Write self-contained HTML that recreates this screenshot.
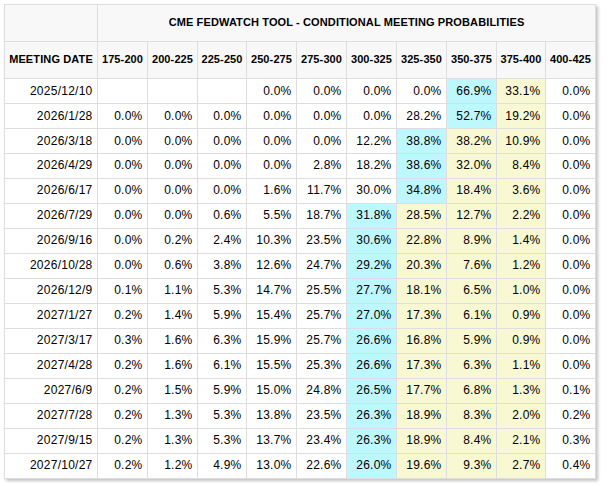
<!DOCTYPE html>
<html><head><meta charset="utf-8"><style>
html,body{margin:0;padding:0;background:#fff;}
body{width:608px;height:486px;overflow:hidden;position:relative;}
table{position:absolute;left:4px;top:4px;border-collapse:separate;border-spacing:0;table-layout:fixed;
 border-left:1px solid #dedee0;border-top:1px solid #dedee0;box-shadow:2px 2px 3px rgba(0,0,0,.24);
 font-family:"Liberation Sans",Arial,sans-serif;color:#000;width:592px;}
td,th{box-sizing:border-box;border-right:1px solid #dedee0;border-bottom:1px solid #dedee0;padding:0 5px 0 0;
 white-space:nowrap;overflow:hidden;}
th{background:#f8f8f8;font-size:11px;font-weight:bold;text-align:center;padding:0 0 2px 0;height:37px;letter-spacing:0.12px;}
td{font-size:12px;text-align:right;height:25px;background:#fff;letter-spacing:0.25px;padding-right:4.5px;}
tr.u td{padding-bottom:2px;}
td.b{background:#bdf7ff;}
td.y{background:#f8f8d2;}
</style></head><body>
<table>
<colgroup>
<col style="width:93px">
<col style="width:50px">
<col style="width:50px">
<col style="width:49px">
<col style="width:50px">
<col style="width:50px">
<col style="width:50px">
<col style="width:50px">
<col style="width:50px">
<col style="width:49px">
<col style="width:50px">
</colgroup>
<tr><th></th><th colspan="10">CME FEDWATCH TOOL - CONDITIONAL MEETING PROBABILITIES</th></tr>
<tr><th>MEETING DATE</th><th>175-200</th><th>200-225</th><th>225-250</th><th>250-275</th><th>275-300</th><th>300-325</th><th>325-350</th><th>350-375</th><th>375-400</th><th>400-425</th></tr>
<tr><td>2025/12/10</td><td></td><td></td><td></td><td>0.0%</td><td>0.0%</td><td>0.0%</td><td>0.0%</td><td class="b">66.9%</td><td class="y">33.1%</td><td>0.0%</td></tr>
<tr><td>2026/1/28</td><td>0.0%</td><td>0.0%</td><td>0.0%</td><td>0.0%</td><td>0.0%</td><td>0.0%</td><td>28.2%</td><td class="b">52.7%</td><td class="y">19.2%</td><td>0.0%</td></tr>
<tr><td>2026/3/18</td><td>0.0%</td><td>0.0%</td><td>0.0%</td><td>0.0%</td><td>0.0%</td><td>12.2%</td><td class="b">38.8%</td><td class="y">38.2%</td><td class="y">10.9%</td><td>0.0%</td></tr>
<tr class="u"><td>2026/4/29</td><td>0.0%</td><td>0.0%</td><td>0.0%</td><td>0.0%</td><td>2.8%</td><td>18.2%</td><td class="b">38.6%</td><td class="y">32.0%</td><td class="y">8.4%</td><td>0.0%</td></tr>
<tr class="u"><td>2026/6/17</td><td>0.0%</td><td>0.0%</td><td>0.0%</td><td>1.6%</td><td>11.7%</td><td>30.0%</td><td class="b">34.8%</td><td class="y">18.4%</td><td class="y">3.6%</td><td>0.0%</td></tr>
<tr class="u"><td>2026/7/29</td><td>0.0%</td><td>0.0%</td><td>0.6%</td><td>5.5%</td><td>18.7%</td><td class="b">31.8%</td><td class="y">28.5%</td><td class="y">12.7%</td><td class="y">2.2%</td><td>0.0%</td></tr>
<tr class="u"><td>2026/9/16</td><td>0.0%</td><td>0.2%</td><td>2.4%</td><td>10.3%</td><td>23.5%</td><td class="b">30.6%</td><td class="y">22.8%</td><td class="y">8.9%</td><td class="y">1.4%</td><td>0.0%</td></tr>
<tr class="u"><td>2026/10/28</td><td>0.0%</td><td>0.6%</td><td>3.8%</td><td>12.6%</td><td>24.7%</td><td class="b">29.2%</td><td class="y">20.3%</td><td class="y">7.6%</td><td class="y">1.2%</td><td>0.0%</td></tr>
<tr class="u"><td>2026/12/9</td><td>0.1%</td><td>1.1%</td><td>5.3%</td><td>14.7%</td><td>25.5%</td><td class="b">27.7%</td><td class="y">18.1%</td><td class="y">6.5%</td><td class="y">1.0%</td><td>0.0%</td></tr>
<tr class="u"><td>2027/1/27</td><td>0.2%</td><td>1.4%</td><td>5.9%</td><td>15.4%</td><td>25.7%</td><td class="b">27.0%</td><td class="y">17.3%</td><td class="y">6.1%</td><td class="y">0.9%</td><td>0.0%</td></tr>
<tr class="u"><td>2027/3/17</td><td>0.3%</td><td>1.6%</td><td>6.3%</td><td>15.9%</td><td>25.7%</td><td class="b">26.6%</td><td class="y">16.8%</td><td class="y">5.9%</td><td class="y">0.9%</td><td>0.0%</td></tr>
<tr class="u"><td>2027/4/28</td><td>0.2%</td><td>1.6%</td><td>6.1%</td><td>15.5%</td><td>25.3%</td><td class="b">26.6%</td><td class="y">17.3%</td><td class="y">6.3%</td><td class="y">1.1%</td><td>0.0%</td></tr>
<tr class="u"><td>2027/6/9</td><td>0.2%</td><td>1.5%</td><td>5.9%</td><td>15.0%</td><td>24.8%</td><td class="b">26.5%</td><td class="y">17.7%</td><td class="y">6.8%</td><td class="y">1.3%</td><td>0.1%</td></tr>
<tr class="u"><td>2027/7/28</td><td>0.2%</td><td>1.3%</td><td>5.3%</td><td>13.8%</td><td>23.5%</td><td class="b">26.3%</td><td class="y">18.9%</td><td class="y">8.3%</td><td class="y">2.0%</td><td>0.2%</td></tr>
<tr class="u"><td>2027/9/15</td><td>0.2%</td><td>1.3%</td><td>5.3%</td><td>13.7%</td><td>23.4%</td><td class="b">26.3%</td><td class="y">18.9%</td><td class="y">8.4%</td><td class="y">2.1%</td><td>0.3%</td></tr>
<tr class="u"><td>2027/10/27</td><td>0.2%</td><td>1.2%</td><td>4.9%</td><td>13.0%</td><td>22.6%</td><td class="b">26.0%</td><td class="y">19.6%</td><td class="y">9.3%</td><td class="y">2.7%</td><td>0.4%</td></tr>
</table>
</body></html>
